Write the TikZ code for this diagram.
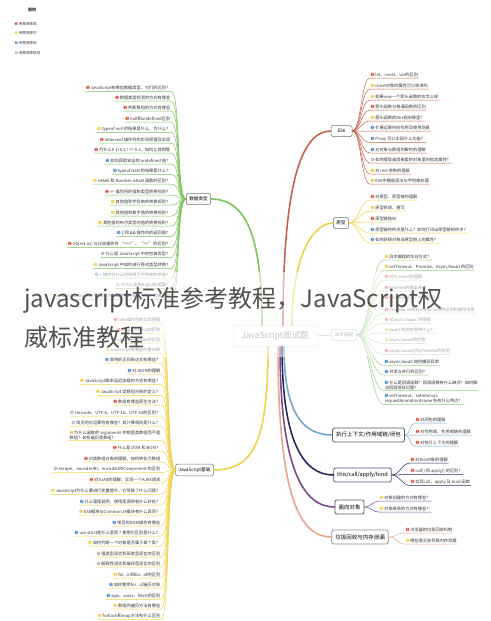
\documentclass[tikz,border=0pt]{standalone}
\usepackage{fontspec}
\setmainfont{Noto Sans CJK SC}
\newfontfamily\iconfont{DejaVu Sans}
\usepackage{xcolor}
\usetikzlibrary{positioning,calc}

\definecolor{priA}{HTML}{E0452F}
\definecolor{priB}{HTML}{F0C432}
\definecolor{priC}{HTML}{3A7FD5}
\definecolor{priD}{HTML}{A8A8A8}
\definecolor{cGreen}{HTML}{7DC35B}
\definecolor{cRed}{HTML}{C8604B}
\definecolor{cYellow}{HTML}{F0D24A}
\definecolor{cPale}{HTML}{9CCB8A}
\definecolor{cSky}{HTML}{6FA8C8}
\definecolor{cNavy}{HTML}{27285E}
\definecolor{cPurple}{HTML}{7B4A8E}
\definecolor{cSalmon}{HTML}{E8A68A}
\definecolor{txtgray}{HTML}{333333}

\newcommand\prioA{\textcolor{priA}{\iconfont ➊}\hspace{1pt}}
\newcommand\prioB{\textcolor{priB}{\iconfont ➋}\hspace{1pt}}
\newcommand\prioC{\textcolor{priC}{\iconfont ➌}\hspace{1pt}}
\newcommand\prioD{\textcolor{priD}{\iconfont ➍}\hspace{1pt}}

\tikzset{
  leaf/.style={font=\fontsize{4.2}{4.9}\selectfont, text=txtgray, inner xsep=0.6pt, inner ysep=0.9pt, align=left},
  twig/.style={draw=#1, line width=0.5pt},
  limb/.style={draw=#1, line width=1.6pt, line cap=round},
  topic/.style={draw=black!55, fill=white, rounded corners=1.5pt, line width=0.5pt, font=\fontsize{4.6}{5}\selectfont, inner xsep=3pt, minimum height=11pt},
  bigtopic/.style={draw=#1, fill=white, rounded corners=2pt, line width=0.8pt, font=\fontsize{5.5}{6}\selectfont, inner xsep=3.5pt, minimum height=14pt},
  wmark/.style={font=\fontsize{24}{27}\selectfont, text=black!68, inner sep=0pt}
}

\begin{document}
\begin{tikzpicture}[x=1pt, y=-1pt]
\useasboundingbox (0,0) rectangle (490,621);

% centre and main topics
\node [draw=black!20, fill=white, rounded corners=2pt, text=black!50, font=\fontsize{8.5}{9}\selectfont, minimum width=84pt, minimum height=21pt] (root) at (275,336) {JavaScript面试题};
\node [topic] (dtype) at (198.5,199) {数据类型};
\node [topic, minimum width=21pt] (es6) at (341.5,131) {ES6};
\node [topic] (proto) at (341,223) {原型};
\node [topic, draw=black!30, text=black!55] (async) at (344,335) {异步编程};
\node [topic] (jsb) at (194.5,470) {JavaScript基础};
\node [bigtopic=black!65] (ctx) at (368.5,435) {执行上下文/作用域链/闭包};
\node [bigtopic=cNavy!80] (thisb) at (362.5,475) {this/call/apply/bind};
\node [bigtopic=black!65] (oop) at (349.5,507) {面向对象};
\node [bigtopic=black!45] (gc) at (360,537) {垃圾回收与内存泄漏};

\draw [limb=cGreen] ([xshift=-13pt]root.north) .. controls +(0,-90) and +(35,0) .. (dtype.east);
\draw [limb=cRed] ([xshift=8pt]root.north) .. controls +(0,-140) and +(-30,0) .. (es6.west);
\draw [limb=cYellow] ([xshift=17pt]root.north) .. controls +(0,-70) and +(-20,0) .. (proto.west);
\draw [limb=cPale, line width=0.8pt] (root.east) -- (async.west);
\draw [limb=cYellow] ([xshift=-7pt]root.south) .. controls +(0,95) and +(40,0) .. (jsb.east);
\draw [limb=cSky] ([xshift=9pt]root.south) .. controls +(0,65) and +(-30,0) .. (ctx.west);
\draw [limb=cNavy] ([xshift=7pt]root.south) .. controls +(0,95) and +(-30,0) .. (thisb.west);
\draw [limb=cPurple] ([xshift=5pt]root.south) .. controls +(0,125) and +(-30,0) .. (oop.west);
\draw [limb=cSalmon] ([xshift=3pt]root.south) .. controls +(0,155) and +(-30,0) .. (gc.west);

% 数据类型
\foreach \y/\p/\t [count=\i] in {
  88/\prioA/{JavaScript有哪些数据类型，它们的区别？},
  98/\prioA/{数据类型检测的方式有哪些},
  108/\prioA/{判断数组的方式有哪些},
  119/\prioA/{null和undefined区别},
  129/\prioB/{typeof null 的结果是什么，为什么？},
  140/\prioA/{intanceof 操作符的实现原理及实现},
  150/\prioA/{为什么0.1+0.2 ! == 0.3，如何让其相等},
  161/\prioC/{如何获取安全的 undefined 值？},
  171/\prioC/{typeof NaN 的结果是什么？},
  181/\prioB/{isNaN 和 Number.isNaN 函数的区别？},
  192/\prioA/{== 操作符的强制类型转换规则？},
  202/\prioB/{其他值到字符串的转换规则？},
  213/\prioB/{其他值到数字值的转换规则？},
  223/\prioB/{其他值到布尔类型的值的转换规则？},
  233/\prioC/{|| 和 \&\& 操作符的返回值？},
  244/\prioA/{Object.is() 与比较操作符 “===”、“==” 的区别？},
  254/\prioD/{什么是 JavaScript 中的包装类型？},
  265/\prioB/{JavaScript 中如何进行隐式类型转换？},
  275/\prioC/{+ 操作符什么时候用于字符串的拼接？},
  285/\prioD/{为什么会有BigInt的提案？},
  296/\prioB/{object.assign和扩展运算法是深拷贝还是浅拷贝，两者区别}}
{
  \node [leaf, anchor=east] (d\i) at (171,\y) {\p\t};
  \draw [twig=cGreen] (dtype.west) .. controls +(-10,0) and +(10,0) .. (d\i.south east) -- (d\i.south west);
}

% ES6
\foreach \y/\p/\t [count=\i] in {
  75/\prioA/{let、const、var的区别},
  86/\prioB/{const对象的属性可以修改吗},
  97/\prioB/{如果new一个箭头函数的会怎么样},
  107/\prioA/{箭头函数与普通函数的区别},
  118/\prioB/{箭头函数的this指向哪里？},
  128/\prioC/{扩展运算符的作用及使用场景},
  139/\prioC/{Proxy 可以实现什么功能？},
  150/\prioC/{对对象与数组的解构的理解},
  160/\prioD/{如何提取高度嵌套的对象里的指定属性？},
  171/\prioB/{对 rest 参数的理解},
  181/\prioB/{ES6中模板语法与字符串处理}}
{
  \node [leaf, anchor=west] (e\i) at (370,\y) {\p\t};
  \draw [twig=cRed] (es6.east) .. controls +(9,0) and +(-9,0) .. (e\i.south west) -- (e\i.south east);
}

% 原型
\foreach \y/\p/\t [count=\i] in {
  197/\prioA/{对原型、原型链的理解},
  208/\prioB/{原型修改、重写},
  219/\prioA/{原型链指向},
  230/\prioC/{原型链的终点是什么？如何打印出原型链的终点？},
  240/\prioC/{如何获得对象非原型链上的属性？}}
{
  \node [leaf, anchor=west] (p\i) at (370,\y) {\p\t};
  \draw [twig=cYellow] (proto.east) .. controls +(9,0) and +(-9,0) .. (p\i.south west) -- (p\i.south east);
}

% 异步编程
\foreach \y/\p/\t [count=\i] in {
  257/\prioB/{异步编程的实现方式？},
  267/\prioB/{setTimeout、Promise、Async/Await 的区别},
  277/\prioA/{对Promise的理解},
  288/\prioA/{Promise的基本用法},
  298/\prioA/{Promise解决了什么问题},
  310/\prioA/{Promise.all和Promise.race的区别和使用场景},
  320/\prioA/{对async/await 的理解},
  330/\prioB/{await 到底在等待什么？},
  340/\prioB/{async/await的优势},
  351/\prioA/{async/await对比Promise的优势},
  362/\prioC/{async/await 如何捕获异常},
  372/\prioC/{并发与并行的区别？},
  385/\prioC/{什么是回调函数？回调函数有什么缺点？如何解\\决回调地狱问题？},
  399/\prioC/{setTimeout、setInterval、\\requestAnimationFrame 各有什么特点？}}
{
  \node [leaf, anchor=west] (a\i) at (384,\y) {\p\t};
  \draw [twig=cPale] (async.east) .. controls +(13,0) and +(-13,0) .. (a\i.south west) -- (a\i.south east);
}

% 执行上下文/作用域链/闭包
\foreach \y/\t [count=\i] in {420/{对闭包的理解}, 432/{对作用域、作用域链的理解}, 443/{对执行上下文的理解}}
{
  \node [leaf, anchor=west] (c\i) at (415,\y) {\prioA\t};
  \draw [twig=cSky] (ctx.east) .. controls +(6,0) and +(-6,0) .. (c\i.south west) -- (c\i.south east);
}

% this/call/apply/bind
\foreach \y/\t [count=\i] in {460/{对this对象的理解}, 471/{call() 和 apply() 的区别？}, 482/{实现call、apply 及 bind 函数}}
{
  \node [leaf, anchor=west] (t\i) at (410,\y) {\prioA\t};
  \draw [twig=cNavy] (thisb.east) .. controls +(8,0) and +(-8,0) .. (t\i.south west) -- (t\i.south east);
}

% 面向对象
\foreach \y/\t [count=\i] in {498/{对象创建的方式有哪些？}, 509/{对象继承的方式有哪些？}}
{
  \node [leaf, anchor=west] (o\i) at (379,\y) {\prioB\t};
  \draw [twig=cPurple] (oop.east) .. controls +(6,0) and +(-6,0) .. (o\i.south west) -- (o\i.south east);
}

% 垃圾回收与内存泄漏
\node [leaf, anchor=west] (g1) at (405,530) {\prioA 浏览器的垃圾回收机制};
\node [leaf, anchor=west] (g2) at (405,541) {\prioB 哪些情况会导致内存泄漏};
\draw [twig=cSalmon] (gc.east) .. controls +(8,0) and +(-8,0) .. (g1.south west) -- (g1.south east);
\draw [twig=cSalmon] (gc.east) .. controls +(8,0) and +(-8,0) .. (g2.south west) -- (g2.south east);

% JavaScript基础
\foreach \y/\p/\t [count=\i] in {
  320/\prioA/{new操作符的实现原理},
  330/\prioA/{map和Object的区别},
  340/\prioB/{map和weakMap的区别},
  350/\prioB/{JavaScript有哪些内置对象},
  360/\prioC/{常用的正则表达式有哪些？},
  371/\prioC/{对JSON的理解},
  381/\prioB/{JavaScript脚本延迟加载的方式有哪些？},
  392/\prioB/{JavaScript 类数组对象的定义？},
  402/\prioA/{数组有哪些原生方法？},
  413/\prioD/{Unicode、UTF-8、UTF-16、UTF-32的区别？},
  423/\prioD/{常见的位运算符有哪些？其计算规则是什么？},
  435/\prioB/{为什么函数的 arguments 参数是类数组而不是\\数组？如何遍历类数组?},
  448/\prioA/{什么是 DOM 和 BOM？},
  459/\prioA/{对类数组对象的理解，如何转化为数组},
  469/\prioD/{escape、encodeURI、encodeURIComponent 的区别},
  480/\prioA/{对AJAX的理解，实现一个AJAX请求},
  491/\prioB/{JavaScript为什么要进行变量提升，它导致了什么问题？},
  502/\prioC/{什么是尾调用，使用尾调用有什么好处？},
  512/\prioB/{ES6模块与CommonJS模块有什么异同？},
  523/\prioC/{常见的DOM操作有哪些},
  533/\prioC/{use strict是什么意思 ? 使用它区别是什么？},
  543/\prioB/{如何判断一个对象是否属于某个类？},
  554/\prioD/{强类型语言和弱类型语言的区别},
  564/\prioD/{解释性语言和编译型语言的区别},
  575/\prioB/{for...in和for...of的区别},
  585/\prioC/{如何使用for...of遍历对象},
  596/\prioC/{ajax、axios、fetch的区别},
  606/\prioB/{数组的遍历方法有哪些},
  616/\prioB/{forEach和map方法有什么区别}}
{
  \node [leaf, anchor=east] (j\i) at (161,\y) {\p\t};
  \draw [twig=cYellow] (jsb.west) .. controls +(-9,0) and +(9,0) .. (j\i.south east) -- (j\i.south west);
}

% legend
\node [font=\fontsize{4}{5}\selectfont\bfseries, text=txtgray] (lgd) at (32,10) {图例};
\foreach \y/\p/\t [count=\i] in {24/\prioA/{考察频率高}, 33/\prioB/{考察频率中}, 43/\prioC/{考察频率低}, 53/\prioD/{考察频率很低}}
  \node [leaf, anchor=west, font=\fontsize{3.6}{4}\selectfont] (lg\i) at (14,\y) {\p\t};

% title band over the map
\fill [white, opacity=0.55] (0,272) rectangle (490,357);
\node [wmark, anchor=west] (wm1) at (24,300) {javascript标准参考教程，JavaScript权};
\node [wmark, anchor=west] (wm2) at (24,337) {威标准教程};
\end{tikzpicture}
\end{document}
